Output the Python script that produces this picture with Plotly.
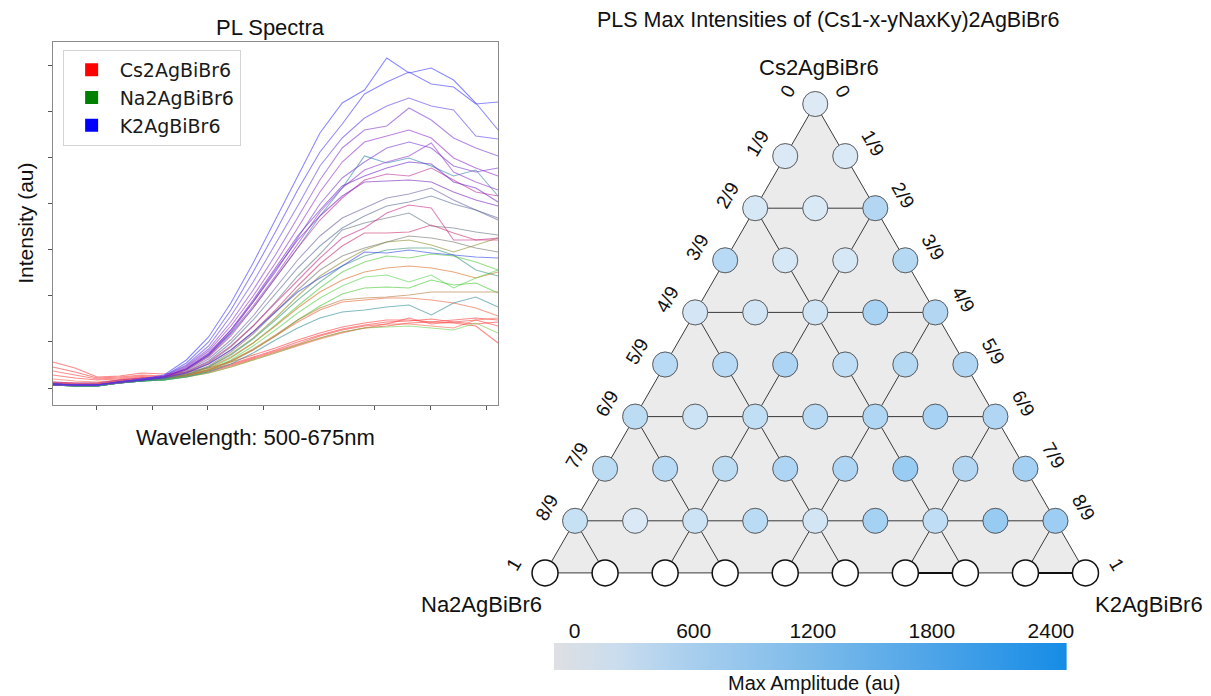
import plotly.graph_objects as go

W, H = 1211, 696

# ---------------- PL spectra data (21 wavelengths, intensity in au) ----------------
wavelength_nm = [500, 508.75, 517.5, 526.25, 535, 543.75, 552.5, 561.25, 570, 578.75,
                 587.5, 596.25, 605, 613.75, 622.5, 631.25, 640, 648.75, 657.5, 666.25, 675]
wavelength_ticks = [517.2, 539.1, 560.9, 582.8, 604.7, 626.6, 648.4, 670.3]

spectra_k_rich = [
    [4, 3, 3, 6, 9, 13, 28, 51, 85, 125, 168, 211, 255, 285, 298, 330, 315, 320, 308, 285, 258],
    [4, 3, 3, 6, 9, 12, 25, 46, 78, 116, 156, 198, 236, 264, 294, 306, 316, 304, 301, 284, 286],
    [3, 3, 3, 6, 9, 12, 23, 42, 72, 106, 144, 182, 222, 250, 270, 282, 290, 282, 278, 252, 249],
    [4, 3, 3, 6, 8, 12, 22, 39, 66, 98, 133, 170, 208, 240, 258, 262, 280, 268, 250, 240, 232],
    [3, 3, 3, 6, 8, 11, 21, 37, 62, 92, 125, 160, 196, 226, 246, 252, 258, 250, 230, 220, 212],
    [4, 3, 3, 6, 8, 11, 20, 35, 58, 86, 116, 150, 184, 210, 226, 240, 246, 240, 222, 216, 220],
    [3, 3, 3, 5, 8, 11, 19, 33, 55, 82, 112, 144, 176, 200, 218, 226, 232, 245, 216, 206, 198],
    [4, 3, 3, 6, 8, 11, 19, 34, 58, 88, 120, 152, 178, 202, 212, 220, 226, 224, 206, 200, 186],
    [4, 3, 3, 6, 8, 11, 19, 33, 56, 86, 118, 148, 172, 192, 206, 207, 208, 206, 196, 188, 182],
    [4, 3, 3, 6, 8, 10, 15, 24, 38, 56, 76, 96, 110, 122, 136, 135, 138, 135, 133, 131, 130],
]
colors_k_rich = [
    "rgba(60,60,255,0.6)", "rgba(70,60,245,0.6)", "rgba(100,70,230,0.6)",
    "rgba(130,60,210,0.6)", "rgba(150,50,200,0.6)", "rgba(120,60,210,0.6)",
    "rgba(145,60,205,0.6)", "rgba(110,40,200,0.6)", "rgba(120,40,190,0.6)",
    "rgba(50,70,230,0.6)",
]

spectra_k_na_mixed = [
    [3, 2, 2, 5, 8, 10, 18, 32, 54, 80, 110, 140, 172, 200, 232, 225, 230, 222, 212, 218, 192],
    [4, 3, 3, 6, 8, 10, 17, 29, 48, 72, 100, 128, 152, 170, 180, 190, 194, 200, 188, 178, 168],
    [3, 3, 3, 5, 7, 10, 16, 27, 45, 68, 94, 120, 142, 160, 172, 182, 186, 192, 184, 178, 170],
    [3, 2, 2, 5, 7, 9, 15, 25, 41, 62, 86, 112, 134, 158, 165, 170, 175, 162, 160, 156, 153],
    [3, 2, 2, 5, 7, 9, 14, 22, 36, 54, 76, 98, 118, 132, 140, 146, 152, 150, 146, 140, 136],
    [3, 2, 2, 5, 7, 9, 13, 21, 33, 49, 68, 88, 106, 122, 132, 138, 140, 140, 133, 118, 112],
    [3, 2, 2, 5, 7, 8, 11, 16, 24, 35, 48, 60, 70, 76, 78, 81, 83, 73, 85, 91, 81],
]
colors_k_na_mixed = [
    "rgba(50,130,170,0.6)", "rgba(110,100,160,0.6)", "rgba(90,110,150,0.6)",
    "rgba(100,120,130,0.6)", "rgba(120,120,110,0.6)", "rgba(60,150,120,0.6)",
    "rgba(50,140,150,0.6)",
]

spectra_cs_k_mixed = [
    [5, 4, 4, 7, 9, 11, 18, 31, 52, 80, 110, 140, 168, 190, 208, 214, 212, 220, 208, 196, 192],
    [6, 5, 5, 8, 10, 11, 16, 26, 42, 62, 85, 108, 130, 150, 160, 175, 183, 180, 148, 148, 150],
    [6, 5, 5, 8, 10, 11, 15, 24, 38, 56, 78, 102, 124, 142, 155, 155, 156, 163, 155, 148, 148],
]
colors_cs_k_mixed = ["rgba(190,50,150,0.6)", "rgba(200,50,140,0.6)", "rgba(200,50,110,0.6)"]

spectra_na_rich = [
    [4, 3, 3, 6, 8, 9, 13, 21, 34, 50, 70, 92, 112, 126, 138, 146, 148, 143, 136, 143, 150],
    [3, 2, 2, 5, 7, 8, 12, 19, 30, 45, 63, 82, 100, 116, 126, 132, 130, 134, 132, 126, 118],
    [5, 4, 4, 7, 9, 10, 13, 20, 31, 45, 62, 80, 96, 108, 116, 120, 122, 120, 116, 110, 116],
    [3, 2, 2, 5, 7, 8, 12, 18, 28, 42, 58, 75, 90, 102, 111, 113, 106, 113, 100, 110, 118],
    [3, 2, 2, 5, 7, 8, 11, 17, 26, 38, 52, 68, 82, 94, 100, 101, 100, 108, 103, 105, 95],
    [4, 3, 3, 6, 8, 9, 12, 18, 27, 39, 53, 68, 80, 88, 90, 91, 93, 96, 96, 96, 96],
    [5, 4, 4, 7, 9, 10, 12, 18, 27, 38, 52, 66, 78, 86, 88, 90, 90, 88, 85, 80, 72],
    [4, 3, 3, 5, 7, 8, 11, 15, 21, 28, 35, 43, 50, 56, 60, 61, 62, 60, 58, 65, 55],
]
colors_na_rich = [
    "rgba(140,140,50,0.6)", "rgba(80,200,60,0.6)", "rgba(220,110,40,0.6)",
    "rgba(90,210,80,0.6)", "rgba(70,200,50,0.6)", "rgba(180,120,60,0.6)",
    "rgba(230,100,60,0.6)", "rgba(110,210,80,0.6)",
]

spectra_cs_rich = [
    [26, 20, 11, 12, 15, 14, 16, 20, 26, 33, 40, 48, 55, 61, 65, 68, 68, 66, 68, 70, 68],
    [21, 16, 10, 11, 13, 12, 14, 18, 24, 31, 38, 46, 53, 59, 63, 66, 67, 69, 66, 64, 66],
    [17, 13, 9, 10, 12, 11, 13, 17, 23, 30, 37, 44, 52, 58, 62, 64, 70, 64, 66, 68, 62],
    [13, 10, 8, 9, 11, 10, 12, 16, 22, 29, 36, 43, 50, 56, 60, 62, 65, 66, 65, 62, 45],
    [9, 7, 6, 8, 10, 9, 11, 15, 21, 28, 35, 42, 49, 55, 60, 64, 64, 62, 60, 68, 70],
]
colors_cs_rich = ["rgba(255,40,40,0.55)", "rgba(255,40,40,0.55)", "rgba(255,50,50,0.55)",
                  "rgba(255,40,40,0.55)", "rgba(240,90,60,0.55)"]

legend_names = ["Cs2AgBiBr6", "Na2AgBiBr6", "K2AgBiBr6"]
legend_colors = ["#ff0000", "#008000", "#0000ff"]

# ---------------- Ternary max-intensity data (rows from Cs apex, k = K steps) ----------------
row_0 = [360]
row_1 = [400, 440]
row_2 = [515, 440, 1450]
row_3 = [1320, 515, 515, 1350]
row_4 = [560, 650, 700, 1700, 1450]
row_5 = [1320, 1320, 1600, 1150, 1400, 1500]
row_6 = [1200, 800, 1100, 1300, 1550, 1750, 1500]
row_7 = [1200, 1320, 1200, 1575, 1575, 2100, 1450, 1850]
row_8 = [950, 400, 800, 1250, 650, 1800, 1150, 2150, 2000]
row_9 = [None] * 10  # Cs-free row: no measured value (white)
node_rows = [row_0, row_1, row_2, row_3, row_4, row_5, row_6, row_7, row_8]
side_labels = ["0", "1/9", "2/9", "3/9", "4/9", "5/9", "6/9", "7/9", "8/9", "1"]

colorbar_ticks = [0, 600, 1200, 1800, 2400]
c_lo, c_hi = -105, 2480
blue_scale = [
    [0.0, "rgb(222,223,226)"],
    [0.12, "rgb(203,221,238)"],
    [0.25, "rgb(172,208,238)"],
    [0.5, "rgb(125,187,234)"],
    [0.75, "rgb(75,163,232)"],
    [1.0, "rgb(22,140,230)"],
]

fig = go.Figure()

# ---------------- Left panel: spectra ----------------
for group, cols in [(spectra_cs_rich, colors_cs_rich), (spectra_na_rich, colors_na_rich),
                    (spectra_k_na_mixed, colors_k_na_mixed), (spectra_cs_k_mixed, colors_cs_k_mixed),
                    (spectra_k_rich, colors_k_rich)]:
    for ys, c in zip(group, cols):
        fig.add_trace(go.Scatter(x=wavelength_nm, y=ys, mode="lines",
                                 line=dict(color=c, width=1.1), showlegend=False,
                                 hoverinfo="skip", xaxis="x", yaxis="y"))

for name, c in zip(legend_names, legend_colors):
    fig.add_trace(go.Scatter(x=[None], y=[None], mode="markers", name=name, legendgroup=name,
                             marker=dict(symbol="square", size=13, color=c),
                             xaxis="x", yaxis="y"))

# ---------------- Right panel: triangular lattice ----------------
def lattice_xy(r, k):
    return k - r / 2.0, -float(r)

N = 9
tri = [lattice_xy(0, 0), lattice_xy(N, 0), lattice_xy(N, N), lattice_xy(0, 0)]
fig.add_trace(go.Scatter(x=[p[0] for p in tri], y=[p[1] for p in tri], mode="lines",
                         fill="toself", fillcolor="#ebebeb", line=dict(color="#3a3a3a", width=1),
                         showlegend=False, hoverinfo="skip", xaxis="x2", yaxis="y2"))

segments = []
for m in (2, 4, 6, 8):
    segments.append(((m, 0), (m, m)))          # horizontal rows
    segments.append(((m, m), (N, m)))          # constant-K lines
    segments.append(((m, 0), (N, N - m)))      # constant-Na lines
lx, ly = [], []
for (a, b) in segments:
    x0, y0 = lattice_xy(*a)
    x1, y1 = lattice_xy(*b)
    lx += [x0, x1, None]
    ly += [y0, y1, None]
fig.add_trace(go.Scatter(x=lx, y=ly, mode="lines", line=dict(color="#3a3a3a", width=1),
                         showlegend=False, hoverinfo="skip", xaxis="x2", yaxis="y2"))
bx, by = [], []
for (a, b) in [((N, 6), (N, 7)), ((N, 8), (N, 9))]:
    x0, y0 = lattice_xy(*a)
    x1, y1 = lattice_xy(*b)
    bx += [x0, x1, None]
    by += [y0, y1, None]
fig.add_trace(go.Scatter(x=bx, y=by, mode="lines", line=dict(color="#111", width=2),
                         showlegend=False, hoverinfo="skip", xaxis="x2", yaxis="y2"))

nx, ny, nv = [], [], []
for r, vals in enumerate(node_rows):
    for k, v in enumerate(vals):
        x, y = lattice_xy(r, k)
        nx.append(x); ny.append(y); nv.append(v)
fig.add_trace(go.Scatter(x=nx, y=ny, mode="markers",
                         marker=dict(size=25, color="white", line=dict(color="#555", width=0.8)),
                         showlegend=False, hoverinfo="skip", xaxis="x2", yaxis="y2"))
fig.add_trace(go.Scatter(x=nx, y=ny, mode="markers",
                         marker=dict(size=25, color=nv, colorscale=blue_scale, cmin=c_lo, cmax=c_hi,
                                     opacity=0.5, line=dict(color="#333", width=0.8),
                                     showscale=False),
                         showlegend=False, hoverinfo="skip", xaxis="x2", yaxis="y2"))
wx = [lattice_xy(N, k)[0] for k in range(len(row_9))]
wy = [lattice_xy(N, k)[1] for k in range(len(row_9))]
fig.add_trace(go.Scatter(x=wx, y=wy, mode="markers",
                         marker=dict(size=26, color="white", line=dict(color="#111", width=1.5)),
                         showlegend=False, hoverinfo="skip", xaxis="x2", yaxis="y2"))

# ---------------- colour bar (drawn as a heatmap strip) ----------------
fig.add_trace(go.Heatmap(x=[c_lo, c_hi], y=[0, 1], z=[[c_lo, c_hi], [c_lo, c_hi]],
                         colorscale=blue_scale, zmin=c_lo, zmax=c_hi, zsmooth="best",
                         showscale=False, hoverinfo="skip", xaxis="x3", yaxis="y3"))

# ---------------- layout ----------------
apex_px = (820.0, 104.0)
step_x, step_y = 60.4, 52.1
x2_px = (460.0, 1180.0)
y2_px = (50.0, 640.0)

fig.update_layout(
    width=W, height=H, margin=dict(l=0, r=0, t=0, b=0),
    paper_bgcolor="white", plot_bgcolor="rgba(0,0,0,0)",
    font=dict(family="Liberation Sans, Arial, sans-serif", color="#111"),
    showlegend=True,
    legend=dict(x=63 / W, y=1 - 50 / H, xanchor="left", yanchor="top",
                bgcolor="white", bordercolor="#d4d4d4", borderwidth=1,
                font=dict(family="DejaVu Sans", size=19, color="#1a1a1a"),
                itemwidth=46, tracegroupgap=0, traceorder="grouped"),
    xaxis=dict(domain=[53 / W, 501 / W], range=[500, 675], tickvals=wavelength_ticks,
               ticks="outside", ticklen=4, tickcolor="#555", showticklabels=False,
               showline=True, mirror=True, linecolor="#8a8a8a", linewidth=1.2,
               showgrid=False, zeroline=False, anchor="y"),
    yaxis=dict(domain=[1 - 405 / H, 1 - 42 / H], range=[-17, 346], tick0=0, dtick=46.1,
               ticks="outside", ticklen=4, tickcolor="#555", showticklabels=False,
               showline=True, mirror=True, linecolor="#8a8a8a", linewidth=1.2,
               showgrid=False, zeroline=False, anchor="x"),
    xaxis2=dict(domain=[x2_px[0] / W, x2_px[1] / W],
                range=[(x2_px[0] - apex_px[0]) / step_x, (x2_px[1] - apex_px[0]) / step_x],
                visible=False, anchor="y2"),
    yaxis2=dict(domain=[1 - y2_px[1] / H, 1 - y2_px[0] / H],
                range=[-(y2_px[1] - apex_px[1]) / step_y, (apex_px[1] - y2_px[0]) / step_y],
                visible=False, anchor="x2"),
    xaxis3=dict(domain=[557 / W, 1073 / W], range=[c_lo, c_hi], side="top", anchor="y3",
                tickvals=colorbar_ticks, ticks="", showline=False, showgrid=False, zeroline=False,
                tickfont=dict(size=21, color="#111")),
    yaxis3=dict(domain=[1 - 670 / H, 1 - 643 / H], range=[0, 1], visible=False, anchor="x3"),
)

ann = []
def txt(text, x, y, size, xref="paper", yref="paper", angle=0, xshift=0, yshift=0):
    ann.append(dict(text=text, x=x, y=y, xref=xref, yref=yref, showarrow=False, textangle=angle,
                    xanchor="center", yanchor="middle", xshift=xshift, yshift=yshift,
                    font=dict(size=size, color="#111")))

txt("PL Spectra", 272 / W, 1 - 27 / H, 22)
txt("Intensity (au)", 25 / W, 1 - 223 / H, 21, angle=-90)
txt("Wavelength: 500-675nm", 257 / W, 1 - 437 / H, 22)
txt("PLS Max Intensities of (Cs1-x-yNaxKy)2AgBiBr6", 833 / W, 1 - 20 / H, 21.5)
txt("Max Amplitude (au)", 819 / W, 1 - 683 / H, 20)

x0, y0 = lattice_xy(0, 0)
txt("Cs2AgBiBr6", x0, y0, 22, "x2", "y2", yshift=37, xshift=4)
xl, yl = lattice_xy(N, 0)
txt("Na2AgBiBr6", xl, yl, 22, "x2", "y2", xshift=-64, yshift=-32)
xr, yr = lattice_xy(N, N)
txt("K2AgBiBr6", xr, yr, 22, "x2", "y2", xshift=64, yshift=-32)

for r, lab in enumerate(side_labels):
    dx, dy = (31, 8) if r == N else (28, 13)
    xa, ya = lattice_xy(r, 0)
    txt(lab, xa, ya, 19, "x2", "y2", angle=-60, xshift=-dx, yshift=dy)
    xb, yb = lattice_xy(r, r)
    txt(lab, xb, yb, 19, "x2", "y2", angle=60, xshift=dx, yshift=dy)

fig.update_layout(annotations=ann)
fig.write_html("out.html")
